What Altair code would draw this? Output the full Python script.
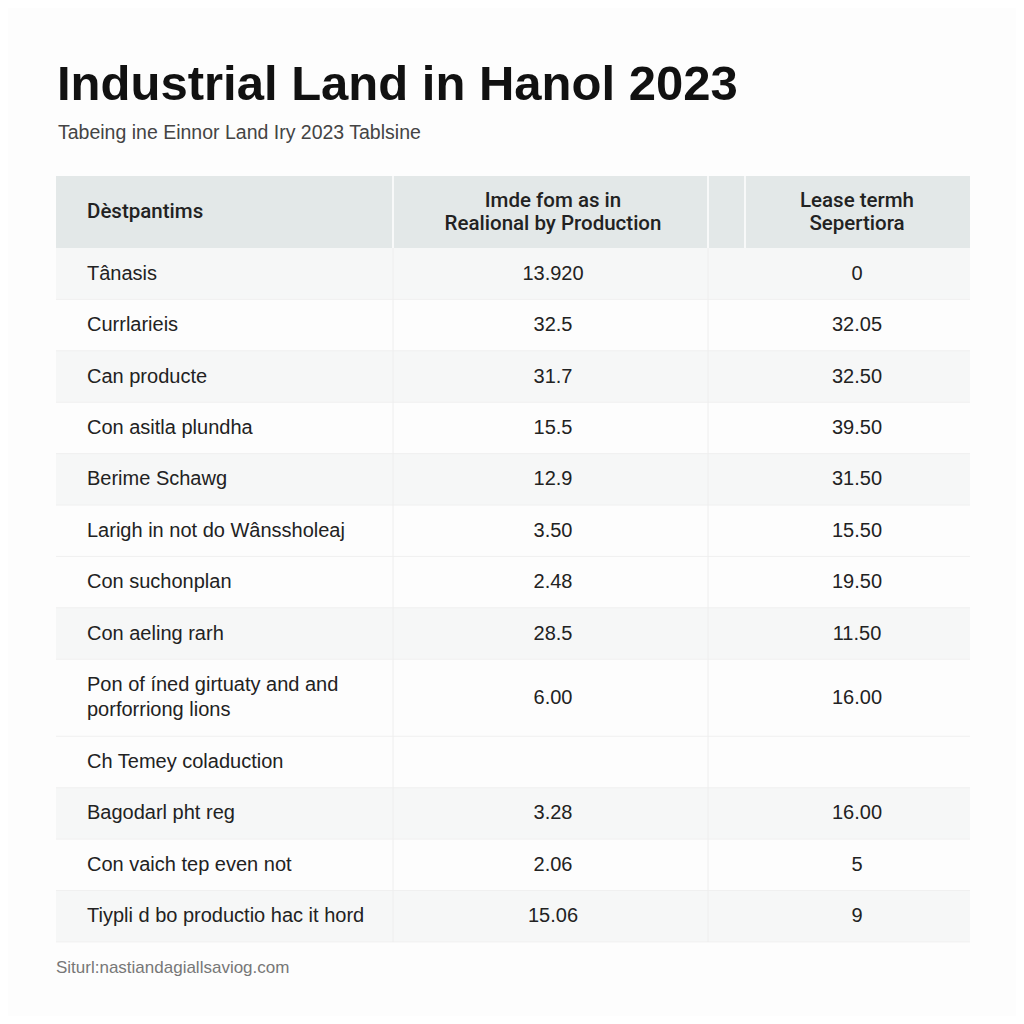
import altair as alt
import pandas as pd

# ---------------- data ----------------
title = "Industrial Land in Hanol 2023"
subtitle = "Tabeing ine Einnor Land Iry 2023 Tablsine"
source = "Siturl:nastiandagiallsaviog.com"

header_1 = "Dèstpantims"
header_2 = "Imde fom as in\nRealional by Production"
header_3 = "Lease termh\nSepertiora"

categories = [
    "Tânasis",
    "Currlarieis",
    "Can producte",
    "Con asitla plundha",
    "Berime Schawg",
    "Larigh in not do Wânssholeaj",
    "Con suchonplan",
    "Con aeling rarh",
    "Pon of íned girtuaty and and\nporforriong lions",
    "Ch Temey coladuction",
    "Bagodarl pht reg",
    "Con vaich tep even not",
    "Tiypli d bo productio hac it hord",
]
col2_values = ["13.920", "32.5", "31.7", "15.5", "12.9", "3.50", "2.48",
               "28.5", "6.00", "", "3.28", "2.06", "15.06"]
col3_values = ["0", "32.05", "32.50", "39.50", "31.50", "15.50", "19.50",
               "11.50", "16.00", "", "16.00", "5", "9"]
shaded = [True, False, True, False, True, False, False, True, False, False,
          True, False, True]

# ---------------- layout (page pixels) ----------------
W = 1008
X0, X1 = 56, 970            # table left / right
C1, C2, C3 = 393, 708, 745  # column dividers
HEAD_TOP, HEAD_BOT = 176, 248
UNIT = 51.4                 # height of a single-line row
BODY_LH = 25
HEAD_LH = 23

tops, bots, nl = [], [], []
y = HEAD_BOT
for c in categories:
    n = c.count("\n") + 1
    h = UNIT * (1.5 if n > 1 else 1.0)
    tops.append(y)
    bots.append(y + h)
    nl.append(n)
    y += h
TABLE_BOT = y

rows = pd.DataFrame({
    "cat": categories,
    "v2": col2_values,
    "v3": col3_values,
    "shaded": shaded,
    "top": tops,
    "bot": bots,
    "n": nl,
})
rows["mid"] = (rows["top"] + rows["bot"]) / 2
rows["ty"] = rows["mid"] - (rows["n"] - 1) * BODY_LH / 2
rows["xl"] = X0
rows["xr"] = X1
rows["xt"] = 87
rows["x2c"] = 553
rows["x3c"] = 857

xs = alt.Scale(domain=[8, 8 + W], range=[0, W])
ys = alt.Scale(domain=[8, 8 + W], range=[0, W])

def X(f):
    return alt.X(f, type="quantitative", scale=xs, axis=None)

def Y(f):
    return alt.Y(f, type="quantitative", scale=ys, axis=None)

FONT = "Liberation Sans"
HFONT = "Roboto"

head = pd.DataFrame({"x": [X0], "x2": [X1], "y": [HEAD_TOP], "y2": [HEAD_BOT]})
head_rect = alt.Chart(head).mark_rect(color="#e3e8e8").encode(
    x=X("x"), x2="x2", y=Y("y"), y2="y2")

stripe = alt.Chart(rows).transform_filter("datum.shaded").mark_rect(
    color="#f6f7f7").encode(x=X("xl"), x2="xr", y=Y("top"), y2="bot")

hsep = alt.Chart(rows).mark_rule(color="#f0f0f0", strokeWidth=1).encode(
    x=X("xl"), x2="xr", y=Y("bot"))

vdiv_head = pd.DataFrame({"x": [C1, C2, C3], "y": [HEAD_TOP] * 3, "y2": [HEAD_BOT] * 3})
vhead = alt.Chart(vdiv_head).mark_rule(color="#ffffff", strokeWidth=1.5).encode(
    x=X("x"), y=Y("y"), y2="y2")
vdiv_body = pd.DataFrame({"x": [C1, C2], "y": [HEAD_BOT] * 2, "y2": [TABLE_BOT] * 2})
vbody = alt.Chart(vdiv_body).mark_rule(color="#eeeeee", strokeWidth=1).encode(
    x=X("x"), y=Y("y"), y2="y2")

htext = pd.DataFrame({
    "t": [header_1, header_2, header_3],
    "x": [87, 553, 857],
    "n": [header_1.count("\n") + 1, header_2.count("\n") + 1, header_3.count("\n") + 1],
})
htext["y"] = (HEAD_TOP + HEAD_BOT) / 2 - (htext["n"] - 1) * HEAD_LH / 2
h1 = alt.Chart(htext.iloc[[0]]).mark_text(
    align="left", baseline="middle", font=HFONT, fontSize=20.5, fontWeight=500,
    color="#222222", lineBreak="\n", lineHeight=HEAD_LH).encode(
    x=X("x"), y=Y("y"), text="t")
h23 = alt.Chart(htext.iloc[1:]).mark_text(
    align="center", baseline="middle", font=HFONT, fontSize=20.5, fontWeight=500,
    color="#222222", lineBreak="\n", lineHeight=HEAD_LH).encode(
    x=X("x"), y=Y("y"), text="t")

cat_text = alt.Chart(rows).mark_text(
    align="left", baseline="middle", font=FONT, fontSize=20, color="#222222",
    lineBreak="\n", lineHeight=BODY_LH).encode(x=X("xt"), y=Y("ty"), text="cat")
v2_text = alt.Chart(rows).mark_text(
    align="center", baseline="middle", font=FONT, fontSize=20, color="#222222").encode(
    x=X("x2c"), y=Y("mid"), text="v2")
v3_text = alt.Chart(rows).mark_text(
    align="center", baseline="middle", font=FONT, fontSize=20, color="#222222").encode(
    x=X("x3c"), y=Y("mid"), text="v3")

tdf = pd.DataFrame({"t": [title], "x": [57], "y": [100]})
title_l = alt.Chart(tdf).mark_text(
    align="left", baseline="alphabetic", font=FONT, fontSize=49, fontWeight="bold",
    color="#111111").encode(x=X("x"), y=Y("y"), text="t")
sdf = pd.DataFrame({"t": [subtitle], "x": [58], "y": [139]})
sub_l = alt.Chart(sdf).mark_text(
    align="left", baseline="alphabetic", font=FONT, fontSize=19.5,
    color="#444444").encode(x=X("x"), y=Y("y"), text="t")
srcdf = pd.DataFrame({"t": [source], "x": [56], "y": [973]})
src_l = alt.Chart(srcdf).mark_text(
    align="left", baseline="alphabetic", font=FONT, fontSize=17,
    color="#777777").encode(x=X("x"), y=Y("y"), text="t")

chart = alt.layer(
    head_rect, stripe, hsep, vhead, vbody, h1, h23,
    cat_text, v2_text, v3_text, title_l, sub_l, src_l,
).properties(
    width=W, height=W, padding=0, background="#fdfdfd",
    autosize=alt.AutoSizeParams(type="none"),
).configure_view(stroke=None)

chart.save("out.html", embed_options={"renderer": "svg", "actions": False})
